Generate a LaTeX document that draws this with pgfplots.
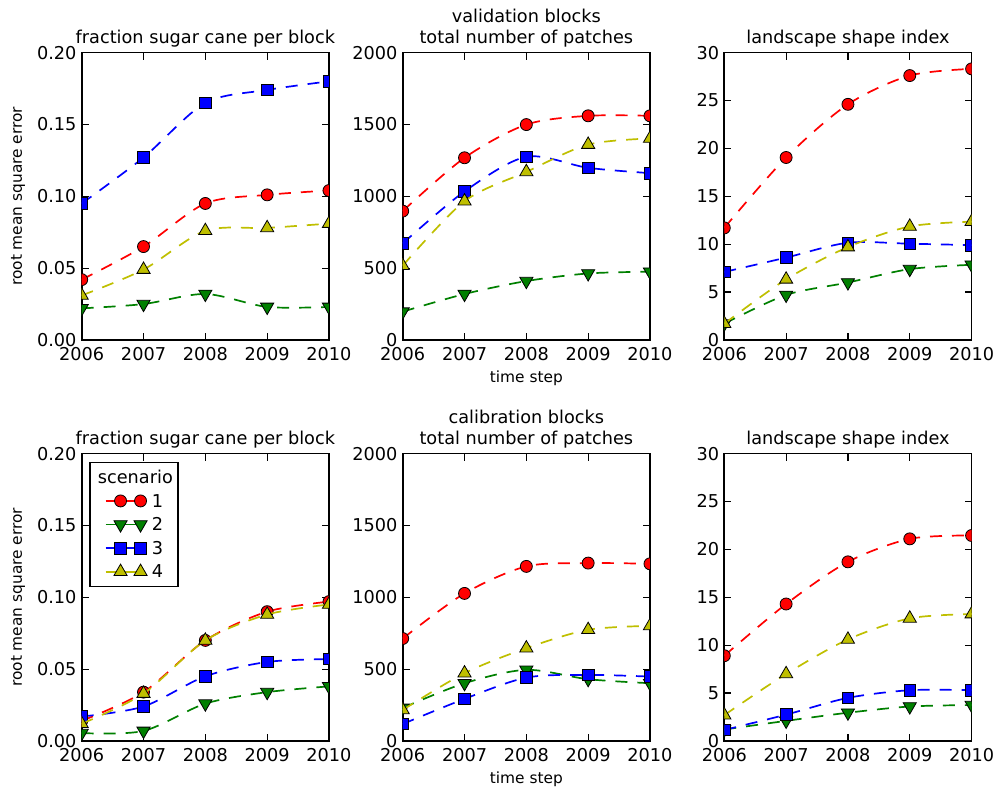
\documentclass[border=0pt]{standalone}
\usepackage{pgfplots}
\pgfplotsset{compat=1.18}
\usepackage{fontspec}
\setmainfont{DejaVu Sans}
\definecolor{mplred}{rgb}{1,0,0}
\definecolor{mplgreen}{rgb}{0,0.5,0}
\definecolor{mplblue}{rgb}{0,0,1}
\definecolor{mplyel}{rgb}{0.75,0.75,0}
\pgfplotsset{
  every axis title shift=0pt,
  mpl/.style={
    scale only axis, width=123.65pt, height=143.7pt,
    xmin=2006, xmax=2010, xtick={2006,2007,2008,2009,2010},
    tick align=inside, major tick length=3.5pt,
    every tick/.style={black, line width=0.6pt},
    axis line style={line width=0.9pt},
    /pgf/number format/assume math mode=true,
    tick label style={font=\fontsize{8.85}{10.6}\selectfont, inner sep=0pt},
    x tick label style={/pgf/number format/1000 sep={}, yshift=-3.3pt},
    y tick label style={xshift=-2.4pt},
    scaled y ticks=false,
    title style={font=\fontsize{8.85}{10.6}\selectfont, align=center, at={(0.5,1)}, anchor=south, inner sep=0pt, yshift=2.6pt},
    label style={font=\fontsize{7.7}{9.2}\selectfont},
    xlabel style={at={(axis description cs:0.5,-0.1322)}, anchor=center},
    ylabel style={at={(axis description cs:-0.2576,0.5)}, anchor=center},
    clip marker paths=true,
    legend image code/.code={\path (-7.4pt,0pt) -- (13.3pt,0pt);
      \draw plot coordinates {(0pt,0pt) (10pt,0pt)};},
  },
  frac/.style={ymin=0, ymax=0.2, ytick={0,0.05,0.1,0.15,0.2},
    y tick label style={/pgf/number format/fixed, /pgf/number format/fixed zerofill, /pgf/number format/precision=2}},
  patch/.style={ymin=0, ymax=2000, ytick={0,500,1000,1500,2000},
    y tick label style={/pgf/number format/1000 sep={}}},
  lsi/.style={ymin=0, ymax=30, ytick={0,5,10,15,20,25,30}},
  common/.style={smooth, line width=0.85pt, dash pattern=on 6pt off 5pt},
  sA/.style={common, color=mplred, mark=*, mark size=3pt,
    mark options={solid, fill=mplred, draw=black, line width=0.4pt}},
  sB/.style={common, color=mplgreen, mark=triangle*, mark size=3.8pt,
    mark options={solid, rotate=180, fill=mplgreen, draw=black, line width=0.4pt}},
  sC/.style={common, color=mplblue, mark=square*, mark size=2.9pt,
    mark options={solid, fill=mplblue, draw=black, line width=0.4pt}},
  sD/.style={common, color=mplyel, mark=triangle*, mark size=3.8pt,
    mark options={solid, fill=mplyel, draw=black, line width=0.4pt}},
}
\begin{document}
\begin{tikzpicture}
\useasboundingbox (0,0) rectangle (498.5pt,395pt);
% ---------- top left
\begin{axis}[mpl, frac, at={(40.85pt,225pt)}, anchor=south west,
  title={fraction sugar cane per block}, ylabel={root mean square error}]
\addplot[sA] coordinates {(2006,0.042)(2007,0.065)(2008,0.095)(2009,0.101)(2010,0.104)};
\addplot[sB] coordinates {(2006,0.022)(2007,0.025)(2008,0.032)(2009,0.023)(2010,0.023)};
\addplot[sC] coordinates {(2006,0.095)(2007,0.127)(2008,0.165)(2009,0.174)(2010,0.180)};
\addplot[sD] coordinates {(2006,0.031)(2007,0.049)(2008,0.076)(2009,0.078)(2010,0.081)};
\end{axis}
% ---------- top middle
\begin{axis}[mpl, patch, at={(201.35pt,225pt)}, anchor=south west,
  title={validation blocks\\total number of patches}, xlabel={time step}]
\addplot[sA] coordinates {(2006,897)(2007,1268)(2008,1499)(2009,1560)(2010,1560)};
\addplot[sB] coordinates {(2006,197)(2007,320)(2008,410)(2009,463)(2010,475)};
\addplot[sC] coordinates {(2006,672)(2007,1034)(2008,1275)(2009,1198)(2010,1161)};
\addplot[sD] coordinates {(2006,517)(2007,966)(2008,1170)(2009,1360)(2010,1402)};
\end{axis}
% ---------- top right
\begin{axis}[mpl, lsi, at={(362.15pt,225pt)}, anchor=south west,
  title={landscape shape index}]
\addplot[sA] coordinates {(2006,11.7)(2007,19.05)(2008,24.6)(2009,27.6)(2010,28.3)};
\addplot[sB] coordinates {(2006,1.7)(2007,4.7)(2008,6.0)(2009,7.4)(2010,7.85)};
\addplot[sC] coordinates {(2006,7.1)(2007,8.6)(2008,10.15)(2009,10.05)(2010,9.9)};
\addplot[sD] coordinates {(2006,1.7)(2007,6.33)(2008,9.7)(2009,11.85)(2010,12.35)};
\end{axis}
% ---------- bottom left
\begin{axis}[mpl, frac, at={(40.85pt,24.5pt)}, anchor=south west,
  title={fraction sugar cane per block}, ylabel={root mean square error},
  legend cell align=left,
  legend style={at={(axis description cs:0.0295,0.972)}, anchor=north west,
    draw=black, line width=0.9pt, inner xsep=7.5pt, inner ysep=1.5pt,
    font=\fontsize{8.85}{10.6}\selectfont, column sep=1.9pt, row sep=0pt,
    nodes={inner sep=0pt, text height=9pt, text depth=2.8pt}}]
\addlegendimage{empty legend}
\addlegendentry{\makebox[0pt][l]{\hspace*{-27.45pt}scenario}}
\addplot[sA] coordinates {(2006,0.014)(2007,0.034)(2008,0.070)(2009,0.090)(2010,0.097)};
\addlegendentry{1}
\addplot[sB] coordinates {(2006,0.0055)(2007,0.007)(2008,0.026)(2009,0.034)(2010,0.038)};
\addlegendentry{2}
\addplot[sC] coordinates {(2006,0.017)(2007,0.024)(2008,0.045)(2009,0.055)(2010,0.057)};
\addlegendentry{3}
\addplot[sD] coordinates {(2006,0.012)(2007,0.033)(2008,0.070)(2009,0.088)(2010,0.095)};
\addlegendentry{4}
\end{axis}
% ---------- bottom middle
\begin{axis}[mpl, patch, at={(201.35pt,24.5pt)}, anchor=south west,
  title={calibration blocks\\total number of patches}, xlabel={time step}]
\addplot[sA] coordinates {(2006,713)(2007,1027)(2008,1215)(2009,1238)(2010,1233)};
\addplot[sB] coordinates {(2006,230)(2007,402)(2008,495)(2009,430)(2010,402)};
\addplot[sC] coordinates {(2006,118)(2007,293)(2008,441)(2009,460)(2010,448)};
\addplot[sD] coordinates {(2006,216)(2007,472)(2008,646)(2009,774)(2010,801)};
\end{axis}
% ---------- bottom right
\begin{axis}[mpl, lsi, at={(362.15pt,24.5pt)}, anchor=south west,
  title={landscape shape index}]
\addplot[sA] coordinates {(2006,8.9)(2007,14.3)(2008,18.7)(2009,21.1)(2010,21.45)};
\addplot[sB] coordinates {(2006,1.2)(2007,2.1)(2008,2.95)(2009,3.6)(2010,3.75)};
\addplot[sC] coordinates {(2006,1.15)(2007,2.75)(2008,4.5)(2009,5.3)(2010,5.3)};
\addplot[sD] coordinates {(2006,2.7)(2007,7.0)(2008,10.6)(2009,12.8)(2010,13.25)};
\end{axis}
\end{tikzpicture}
\end{document}
